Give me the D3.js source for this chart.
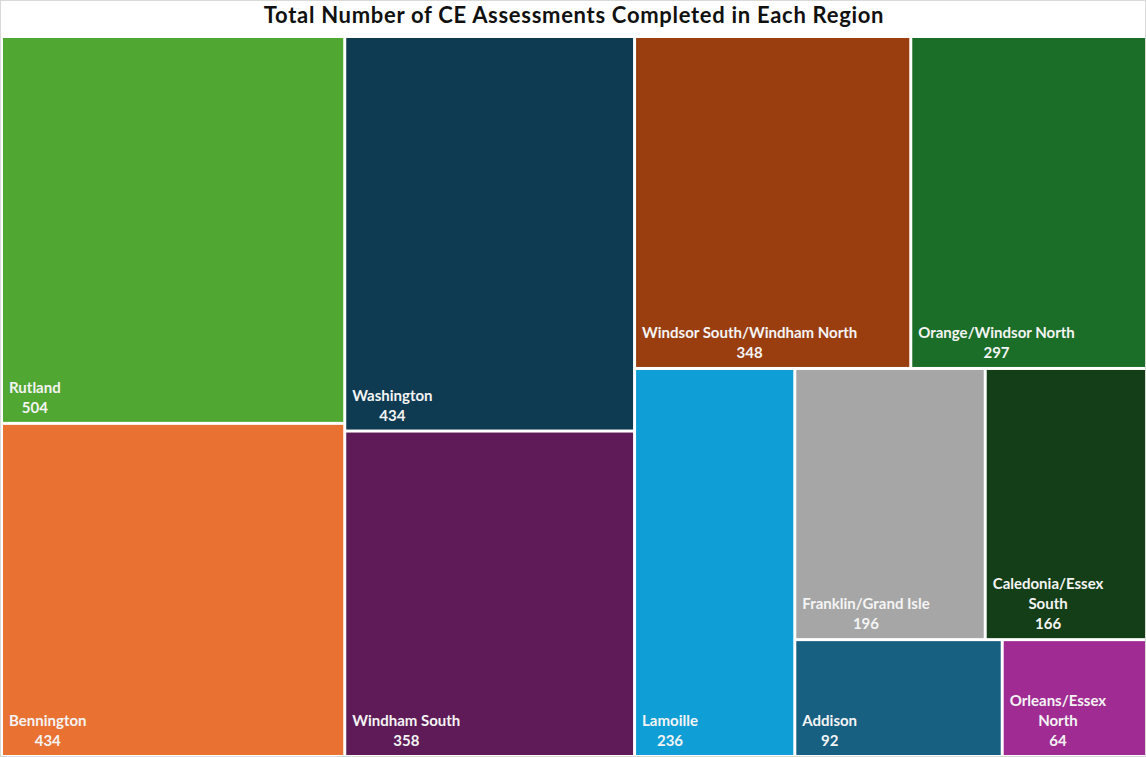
<!DOCTYPE html>
<html>
<head>
<meta charset="utf-8">
<script src="https://cdn.jsdelivr.net/npm/d3@7"></script>
<style>
  html, body { margin: 0; padding: 0; background: #ffffff; }
  svg { display: block; }
  text { font-family: Lato, "Open Sans", "Liberation Sans", sans-serif; }
</style>
</head>
<body>
<svg id="chart" width="1146" height="757"></svg>
<script>
// Regions and number of CE assessments completed in each
const regions = [
  "Rutland", "Bennington", "Washington", "Windham South",
  "Windsor South/Windham North", "Orange/Windsor North", "Lamoille",
  "Franklin/Grand Isle", "Caledonia/Essex South", "Addison", "Orleans/Essex North"
];
const assessments = [504, 434, 434, 358, 348, 297, 236, 196, 166, 92, 64];
const regionColors = [
  "#50a731", "#e97132", "#0e3a52", "#5e1b57",
  "#9a3e10", "#1b6e28", "#109ed6",
  "#a6a6a6", "#143e17", "#176082", "#a02c93"
];
const chartTitle = "Total Number of CE Assessments Completed in Each Region";

const W = 1146, H = 757;
const svg = d3.select("#chart");

// Outer frame
svg.append("rect")
  .attr("x", 0.5).attr("y", 0.5)
  .attr("width", W - 1).attr("height", H - 1)
  .attr("fill", "#ffffff").attr("stroke", "#d9d9d9");

svg.append("text")
  .attr("x", 574).attr("y", 23)
  .attr("text-anchor", "middle")
  .attr("font-size", 22).attr("font-weight", 700)
  .attr("letter-spacing", 0.7)
  .attr("fill", "#111111")
  .text(chartTitle);

// Squarified tiling that prefers tall tiles over wide ones:
// rows run along the shorter side, and a wide tile counts as more
// elongated than a tall tile with the same proportions.
const WIDE_PENALTY = 2;
function tallSquarify(parent, x0, y0, x1, y1) {
  const nodes = parent.children;
  const n = nodes.length;
  let remaining = parent.value;
  let i0 = 0;
  while (i0 < n) {
    const dx = x1 - x0, dy = y1 - y0;
    const column = dy < dx;
    const side = column ? dy : dx;
    const scale = (dx * dy) / remaining;

    const worst = (a, b) => {
      let sum = 0;
      for (let i = a; i < b; i++) sum += nodes[i].value;
      const thick = (sum * scale) / side;
      let w = 0;
      for (let i = a; i < b; i++) {
        const len = (nodes[i].value * scale) / thick;
        const tw = column ? thick : len, th = column ? len : thick;
        const r = th >= tw ? th / tw : WIDE_PENALTY * tw / th;
        if (r > w) w = r;
      }
      return w;
    };

    let i1 = i0 + 1;
    let best = worst(i0, i1);
    while (i1 < n) {
      const r = worst(i0, i1 + 1);
      if (r > best) break;
      best = r;
      i1++;
    }

    const children = nodes.slice(i0, i1);
    const sum = d3.sum(children, d => d.value);
    const row = { children, value: sum };
    const last = i1 >= n;
    if (column) {
      const xe = last ? x1 : x0 + dx * sum / remaining;
      d3.treemapSlice(row, x0, y0, xe, y1);
      x0 = xe;
    } else {
      const ye = last ? y1 : y0 + dy * sum / remaining;
      d3.treemapDice(row, x0, y0, x1, ye);
      y0 = ye;
    }
    remaining -= sum;
    i0 = i1;
  }
}

const data = {
  name: "root",
  children: regions.map((r, i) => ({ name: r, value: assessments[i], color: regionColors[i] }))
};

const root = d3.hierarchy(data)
  .sum(d => d.value || 0)
  .sort((a, b) => b.value - a.value);

const area = { x0: 3, y0: 38, x1: 1145, y1: 755 };
d3.treemap()
  .tile(tallSquarify)
  .size([area.x1 - area.x0, area.y1 - area.y0])
  .paddingInner(3)(root);

const g = svg.append("g").attr("transform", `translate(${area.x0},${area.y0})`);

const cell = g.selectAll("g.cell")
  .data(root.leaves())
  .join("g")
  .attr("class", "cell")
  .attr("transform", d => `translate(${d.x0},${d.y0})`);

cell.append("rect")
  .attr("width", d => d.x1 - d.x0)
  .attr("height", d => d.y1 - d.y0)
  .attr("fill", d => d.data.color);

// Labels: name (wrapped to fit) and value, bottom-left, lines centred on each other
const FS = 15, LH = 20, PAD = 6, BOTTOM = 9;
const measurer = svg.append("text").attr("font-size", FS).attr("font-weight", 700).attr("visibility", "hidden");
function textWidth(s) { measurer.text(s); return measurer.node().getComputedTextLength(); }

function wrap(name, maxW) {
  const words = name.split(" ");
  const lines = [];
  let cur = "";
  for (const w of words) {
    const t = cur ? cur + " " + w : w;
    if (cur && textWidth(t) > maxW) { lines.push(cur); cur = w; }
    else cur = t;
  }
  if (cur) lines.push(cur);
  return lines;
}

cell.each(function(d) {
  const w = d.x1 - d.x0, h = d.y1 - d.y0;
  const lines = wrap(d.data.name, w - 2 * PAD - 4);
  lines.push(String(d.data.value));
  const blockW = d3.max(lines, s => textWidth(s));
  const cx = PAD + blockW / 2;
  const lastY = h - BOTTOM;
  const t = d3.select(this).append("text")
    .attr("font-size", FS).attr("font-weight", 700)
    .attr("fill", "#f4f4f4")
    .attr("text-anchor", "middle");
  lines.forEach((s, i) => {
    t.append("tspan")
      .attr("x", cx)
      .attr("y", lastY - (lines.length - 1 - i) * LH)
      .text(s);
  });
});
measurer.remove();
</script>
</body>
</html>
